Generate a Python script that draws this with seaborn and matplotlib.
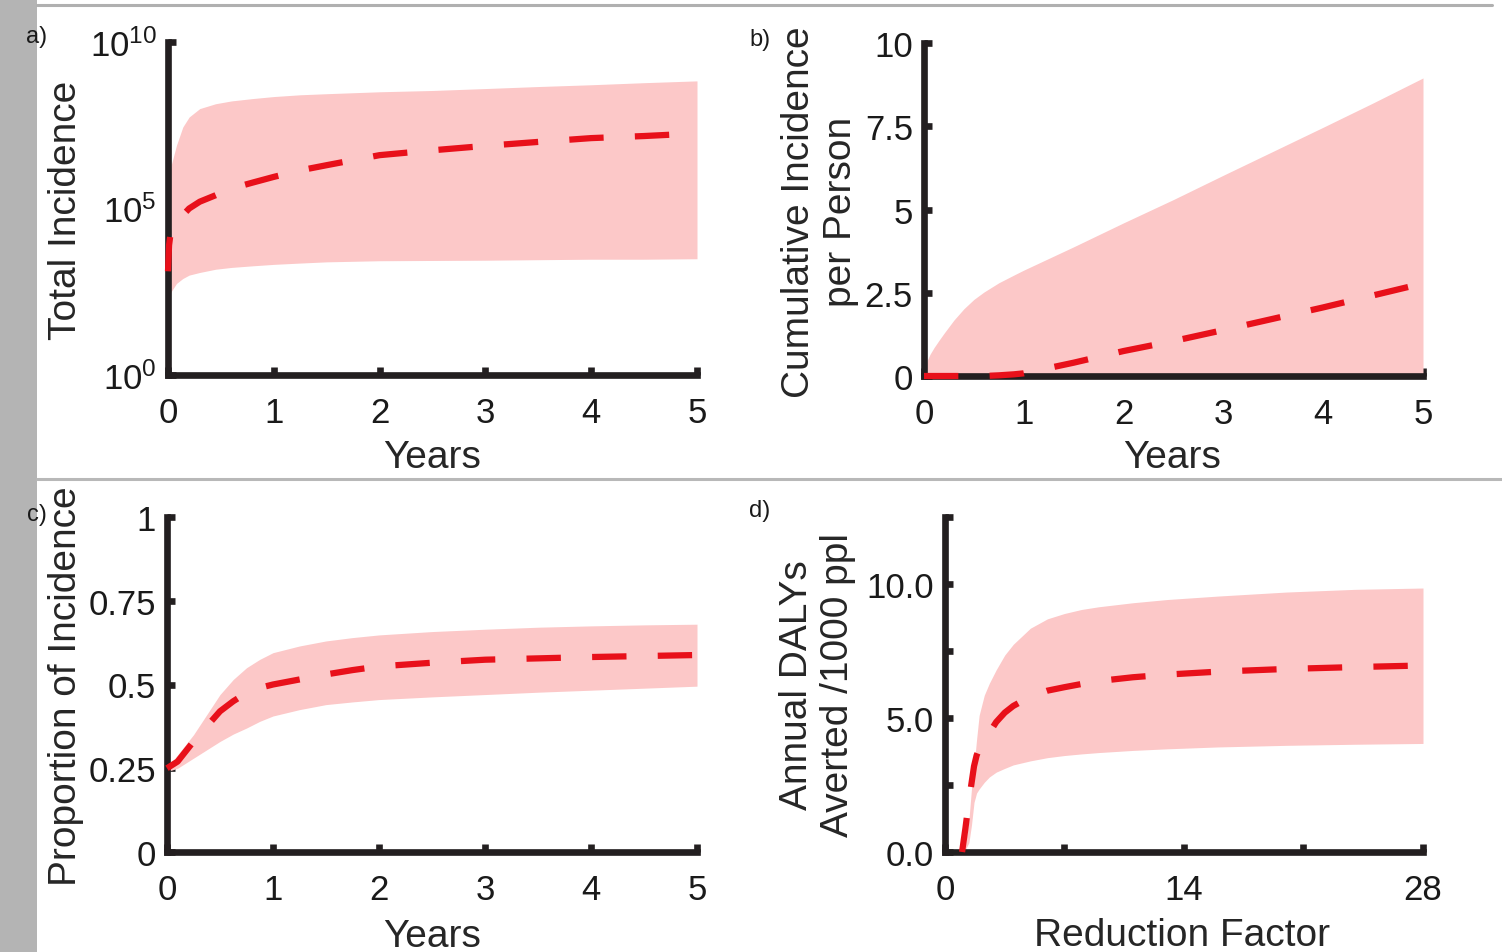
import numpy as np
import pandas as pd
import matplotlib
matplotlib.use("Agg")
import matplotlib.pyplot as plt
import seaborn as sns
from matplotlib.lines import Line2D
from matplotlib.patches import Rectangle
from matplotlib.ticker import NullLocator, FixedLocator

# ---------------- data ----------------
years_a = [0, 0.01, 0.03, 0.08, 0.14, 0.2, 0.3, 0.45, 0.6, 0.8, 1, 1.25, 1.5, 2, 2.5, 3, 3.5, 4, 4.5, 5]
inc_median = [1.3e3, 7.9e3, 2.5e4, 4.5e4, 6.3e4, 1.0e5, 1.6e5, 2.5e5, 4.0e5, 6.0e5,
              8.9e5, 1.4e6, 2.0e6, 4.0e6, 5.6e6, 7.6e6, 1.0e7, 1.3e7, 1.5e7, 1.8e7]
inc_lower = [160, 220, 320, 560, 790, 1.0e3, 1.2e3, 1.5e3, 1.7e3, 1.9e3,
             2.1e3, 2.3e3, 2.5e3, 2.7e3, 2.75e3, 2.8e3, 2.9e3, 3.0e3, 3.0e3, 3.1e3]
inc_upper = [3.2e5, 7.9e5, 2.0e6, 7.9e6, 2.8e7, 5.6e7, 1.0e8, 1.4e8, 1.7e8, 2.0e8,
             2.3e8, 2.6e8, 2.8e8, 3.2e8, 3.5e8, 4.0e8, 4.6e8, 5.2e8, 6.0e8, 6.8e8]

years_b = [0, 0.03, 0.06, 0.1, 0.15, 0.2, 0.3, 0.4, 0.5, 0.6, 0.75, 0.9, 1, 1.5, 2, 2.5, 3, 3.5, 4, 4.5, 5]
cum_median = [0, 0, 0, 0, 0, 0, 0, 0, 0, 0, 0.02, 0.05, 0.08, 0.4, 0.75, 1.05, 1.38, 1.72, 2.06, 2.42, 2.78]
cum_lower = [0] * 21
cum_upper = [0, 0.45, 0.65, 0.85, 1.07, 1.28, 1.68, 2.02, 2.3, 2.52, 2.8, 3.03, 3.18,
             3.88, 4.6, 5.3, 6.03, 6.75, 7.47, 8.2, 8.95]

years_c = [0, 0.1, 0.25, 0.375, 0.5, 0.625, 0.75, 0.875, 1, 1.25, 1.5, 1.75, 2, 2.5, 3, 3.5, 4, 4.5, 5]
prop_median = [0.25, 0.27, 0.33, 0.375, 0.42, 0.45, 0.475, 0.49, 0.5, 0.515, 0.53, 0.543,
               0.554, 0.565, 0.574, 0.578, 0.582, 0.585, 0.588]
prop_lower = [0.24, 0.25, 0.28, 0.305, 0.33, 0.352, 0.37, 0.39, 0.406, 0.425, 0.44, 0.448,
              0.455, 0.463, 0.47, 0.477, 0.483, 0.489, 0.495]
prop_upper = [0.25, 0.29, 0.35, 0.41, 0.47, 0.515, 0.55, 0.575, 0.595, 0.615, 0.63, 0.64,
              0.648, 0.658, 0.665, 0.671, 0.675, 0.678, 0.68]

reduction = [1, 1.2, 1.4, 1.55, 1.7, 1.85, 2, 2.3, 2.6, 3, 3.5, 4, 5, 6, 7, 8, 9, 11, 13, 16, 20, 24, 28]
daly_median = [0, 0.9, 1.9, 2.55, 3.2, 3.6, 3.85, 4.15, 4.45, 4.85, 5.2, 5.45, 5.8, 6.02,
               6.15, 6.27, 6.38, 6.52, 6.62, 6.73, 6.83, 6.9, 6.96]
daly_lower = [0, 0.1, 0.35, 1.0, 1.85, 2.2, 2.35, 2.6, 2.8, 2.98, 3.12, 3.25, 3.4, 3.52,
              3.6, 3.66, 3.71, 3.79, 3.85, 3.92, 3.98, 4.02, 4.05]
daly_upper = [0, 0.3, 1.2, 2.35, 3.2, 4.2, 5.1, 5.85, 6.3, 6.8, 7.35, 7.75, 8.35, 8.7,
              8.9, 9.05, 9.15, 9.3, 9.42, 9.55, 9.7, 9.8, 9.85]

year_ticks = [0, 1, 2, 3, 4, 5]
year_labels = ["0", "1", "2", "3", "4", "5"]
inc_ticks = [1, 1e5, 1e10]
cum_ticks = [0, 2.5, 5, 7.5, 10]
cum_labels = ["0", "2.5", "5", "7.5", "10"]
prop_ticks = [0, 0.25, 0.5, 0.75, 1]
prop_labels = ["0", "0.25", "0.5", "0.75", "1"]
red_ticks = [0, 7, 14, 21, 28]
red_labels = ["0", "", "14", "", "28"]
daly_ticks = [0, 2.5, 5, 7.5, 10, 12.5]
daly_labels = ["0.0", "", "5.0", "", "10.0", ""]

# ---------------- style ----------------
sns.set_style("ticks")
plt.rcParams["font.family"] = ["Liberation Sans", "DejaVu Sans"]
plt.rcParams["mathtext.fontset"] = "custom"
plt.rcParams["mathtext.rm"] = "Liberation Sans"
plt.rcParams["mathtext.it"] = "Liberation Sans"

W, H = 1502, 953
fig = plt.figure(figsize=(W / 100, H / 100), dpi=100)
fig.patch.set_facecolor("white")

SPINE = "#231f20"
RED = "#e8101a"
PINK = "#fcc8c8"
LW_SP = 4.8
TICK_FS = 25
LABEL_FS = 28


def add_ax(left, right, top, bottom):
    return fig.add_axes([left / W, 1 - bottom / H, (right - left) / W, (bottom - top) / H])


def style(ax):
    sns.despine(ax=ax)
    for s in ("left", "bottom"):
        ax.spines[s].set_linewidth(LW_SP)
        ax.spines[s].set_color(SPINE)
        ax.spines[s].set_capstyle("projecting")
    ax.tick_params(axis="both", direction="in", length=6, width=LW_SP, color=SPINE,
                   labelsize=TICK_FS, labelcolor="#1a1a1a")
    ax.tick_params(axis="x", pad=15)
    ax.tick_params(axis="y", pad=8)
    ax.set_facecolor("none")


def draw(ax, x, med, lo, hi):
    ax.fill_between(x, lo, hi, color=PINK, lw=0, zorder=1)
    df = pd.DataFrame({"x": x, "y": med})
    sns.lineplot(data=df, x="x", y="y", ax=ax, color=RED, lw=4.5,
                 linestyle=(0, (5.5, 5)), zorder=3, clip_on=False, estimator=None)
    ax.set_xlabel("")
    ax.set_ylabel("")


# panel a
ax_a = add_ax(168, 697, 43, 376)
ax_a.set_yscale("log")
draw(ax_a, years_a, inc_median, inc_lower, inc_upper)
ax_a.set_xlim(0, 5)
ax_a.set_ylim(1, 1e10)
ax_a.yaxis.set_major_locator(FixedLocator(inc_ticks))
ax_a.yaxis.set_minor_locator(NullLocator())
ax_a.set_xticks(year_ticks, year_labels)
style(ax_a)
ax_a.set_ylabel("Total Incidence", fontsize=LABEL_FS, va="center")
ax_a.yaxis.set_label_coords(-0.193, 0.4985)
ax_a.set_xlabel("Years", fontsize=LABEL_FS, va="center")
ax_a.xaxis.set_label_coords(0.499, -0.246)

# panel b
ax_b = add_ax(924, 1423, 44, 377)
draw(ax_b, years_b, cum_median, cum_lower, cum_upper)
ax_b.set_xlim(0, 5)
ax_b.set_ylim(0, 10)
ax_b.set_xticks(year_ticks, year_labels)
ax_b.set_yticks(cum_ticks, cum_labels)
style(ax_b)
ax_b.set_ylabel("Cumulative Incidence\nper Person", fontsize=LABEL_FS, va="center")
ax_b.yaxis.set_label_coords(-0.208, 0.495)
ax_b.set_xlabel("Years", fontsize=LABEL_FS, va="center")
ax_b.xaxis.set_label_coords(0.497, -0.243)

# panel c
ax_c = add_ax(167, 697, 518, 853)
draw(ax_c, years_c, prop_median, prop_lower, prop_upper)
ax_c.set_xlim(0, 5)
ax_c.set_ylim(0, 1)
ax_c.set_xticks(year_ticks, year_labels)
ax_c.set_yticks(prop_ticks, prop_labels)
style(ax_c)
ax_c.set_ylabel("Proportion of Incidence", fontsize=LABEL_FS, va="center")
ax_c.yaxis.set_label_coords(-0.1906, 0.4985)
ax_c.set_xlabel("Years", fontsize=LABEL_FS, va="center")
ax_c.xaxis.set_label_coords(0.5, -0.251)

# panel d
ax_d = add_ax(945, 1423, 518, 853)
draw(ax_d, reduction, daly_median, daly_lower, daly_upper)
ax_d.set_xlim(0, 28)
ax_d.set_ylim(0, 12.5)
ax_d.set_xticks(red_ticks, red_labels)
ax_d.set_yticks(daly_ticks, daly_labels)
style(ax_d)
ax_d.set_ylabel("Annual DALYs\nAverted /1000 ppl", fontsize=LABEL_FS, va="center")
ax_d.yaxis.set_label_coords(-0.267, 0.501)
ax_d.set_xlabel("Reduction Factor", fontsize=LABEL_FS, va="center")
ax_d.xaxis.set_label_coords(0.496, -0.248)

# panel letters
for lab, (px, py) in {"a)": (37, 37), "b)": (760, 40), "c)": (37, 515), "d)": (760, 511)}.items():
    fig.text(px / W, 1 - py / H, lab, fontsize=17, ha="center", va="center", color="#1a1a1a")

# page decorations: grey margin bar and separator lines
fig.add_artist(Rectangle((0, 0), 37 / W, 1, transform=fig.transFigure,
                         facecolor="#b4b4b4", edgecolor="none", zorder=0))
fig.add_artist(Line2D([37 / W, 1492 / W], [1 - 6 / H, 1 - 6 / H], transform=fig.transFigure,
                      color="#b0b0b0", lw=2.2))
fig.add_artist(Line2D([37 / W, 1502 / W], [1 - 480 / H, 1 - 480 / H], transform=fig.transFigure,
                      color="#b8b8b8", lw=2.2))

fig.savefig("out.png", dpi=100, facecolor="white")
